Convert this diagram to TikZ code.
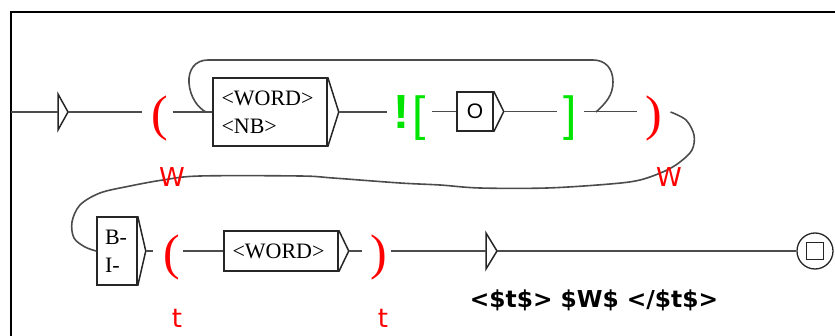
\documentclass[tikz,border=0pt]{standalone}
\usepackage{fontspec}
\setmainfont{Liberation Serif}
\newfontfamily\dejavu{DejaVu Sans}
\newfontfamily\arialf{Liberation Sans}
\usetikzlibrary{calc}
\definecolor{lncol}{gray}{0.3}
\definecolor{bxcol}{gray}{0.15}
\definecolor{grn}{rgb}{0,0.9,0}
\definecolor{rd}{rgb}{1,0,0}
\begin{document}
\begin{tikzpicture}[x=1pt,y=-1pt,
 ln/.style={draw=lncol, line width=1.6pt},
 bx/.style={draw=bxcol, line width=1.5pt},
 boxnode/.style={bx, rectangle, inner ysep=0pt, font=\fontsize{22}{28}\selectfont, align=left},
 paren/.style={text=rd, inner sep=0pt, font=\fontsize{50}{50}\selectfont},
 brk/.style={text=grn, inner sep=0pt, font=\arialf\fontsize{48}{48}\selectfont},
 varlab/.style={text=rd, inner sep=0pt, font=\dejavu\fontsize{26}{26}\selectfont},
]
\useasboundingbox (0,0) rectangle (835,336);
\draw[black, line width=1.6pt] (11,336) -- (11,12) -- (835,12);

% ---- row 1 ----
\coordinate (start) at (11,112);
\coordinate (init) at (58,112);
\coordinate (initout) at (68,112);
\draw[bx] (init) -- (58,94) -- (initout) -- (58,130) -- cycle;

\node[paren] (p1) at (160,118.5) {(};
\node[boxnode, minimum width=114pt, minimum height=68pt, text width=97pt, inner xsep=8.5pt] (b1) at (270,112) {<WORD>\\<NB>};
\coordinate (b1out) at ($(b1.east)+(11,0)$);
\draw[bx] (b1.north east) -- (b1out) -- (b1.south east);

\node[brk, font=\arialf\fontsize{48}{48}\selectfont\bfseries] (bang) at (401,112) {!};
\node[brk] (lbr) at (419.5,118) {[};
\node[bx, minimum width=36pt, minimum height=39pt, inner sep=0pt, font=\arialf\fontsize{21}{21}\selectfont] (b2) at (475,111.5) {O};
\coordinate (b2out) at ($(b2.east)+(10,0)$);
\draw[bx] (b2.north east) -- (b2out) -- (b2.south east);
\node[brk] (rbr) at (570,118) {]};
\node[paren] (p2) at (654,118.5) {)};

\draw[ln] (start) -- (init);
\draw[ln] (initout) -- ([xshift=-9pt]initout -| p1.west);
\draw[ln] ([xshift=4pt]p1.east |- b1.west) -- (b1.west);
\draw[ln] (b1out) -- ([xshift=-6pt]b1out -| bang.west);
\draw[ln] ([xshift=5.5pt]lbr.east |- b2.west) -- (b2.west);
\draw[ln] (b2out) -- ([xshift=-6pt]b2out -| rbr.west);
\draw[ln] ([xshift=7pt]rbr.east |- b2out) -- ([xshift=-8pt]b2out -| p2.west);

% loop
\coordinate (lpA) at (596,112);
\coordinate (lpB) at (206,112);
\draw[ln] (lpA) .. controls (606,103) and (613,95) .. (613,82)
  .. controls (613,68) and (605,60) .. (593,60) -- (208,60)
  .. controls (195,60) and (188,70) .. (189,83)
  .. controls (190,97) and (198,108) .. (lpB);

% ---- row 2 ----
\node[boxnode, minimum width=40pt, minimum height=68pt, text width=24pt, inner xsep=8pt] (b3) at (117,251) {B-\\I-};
\coordinate (b3out) at ($(b3.east)+(8,0)$);
\draw[bx] (b3.north east) -- (b3out) -- (b3.south east);
\node[paren] (p3) at (171.5,257.5) {(};
\node[boxnode, minimum width=114pt, minimum height=40pt, text width=97pt, inner xsep=8.5pt] (b4) at (281,251) {<WORD>};
\coordinate (b4out) at ($(b4.east)+(10,0)$);
\draw[bx] (b4.north east) -- (b4out) -- (b4.south east);
\node[paren] (p4) at (378.5,257.5) {)};
\coordinate (tr) at (486,251);
\coordinate (trout) at (497,251);
\draw[bx] (tr) -- (486,233) -- (trout) -- (486,269) -- cycle;
\node[draw=bxcol, circle, minimum size=36pt, inner sep=0pt, line width=1.3pt] (fin) at (815,251) {};
\draw[bx] ($(fin)+(-8.5,-8.5)$) rectangle ($(fin)+(8.5,8.5)$);

\draw[ln] (b3out) -- ([xshift=-10pt]b3out -| p3.west);
\draw[ln] ([xshift=3pt]p3.east |- b4.west) -- (b4.west);
\draw[ln] (b4out) -- ([xshift=-8pt]b4out -| p4.west);
\draw[ln] ([xshift=4pt]p4.east |- tr) -- (tr);
\draw[ln] (trout) -- (fin.west);

% long connector from row 1 to row 2
\coordinate (c0) at ([xshift=8pt]p2.east |- lpA);
\draw[ln] plot[smooth, tension=0.55] coordinates {(c0) (686,120) (694,135) (692,150) (680,162) (665,171) (640,180) (610,184) (547,188) (480,188) (440,185) (400,183) (333,178) (300,176) (200,176) (163,180) (130,186) (100,193) (80,205) (72,222) (74,238) (85,247) (b3.west)};

% labels
\node[varlab] (w1) at (172,177) {W};
\node[varlab] (w2) at (669,177) {W};
\node[varlab] (t1) at (177,318) {t};
\node[varlab] (t2) at (383,318) {t};
\node[font=\dejavu\fontsize{23.3}{23.3}\selectfont\bfseries, inner sep=0pt] (out) at (594,300) {<\$t\$> \$W\$ </\$t\$>};
\end{tikzpicture}
\end{document}
